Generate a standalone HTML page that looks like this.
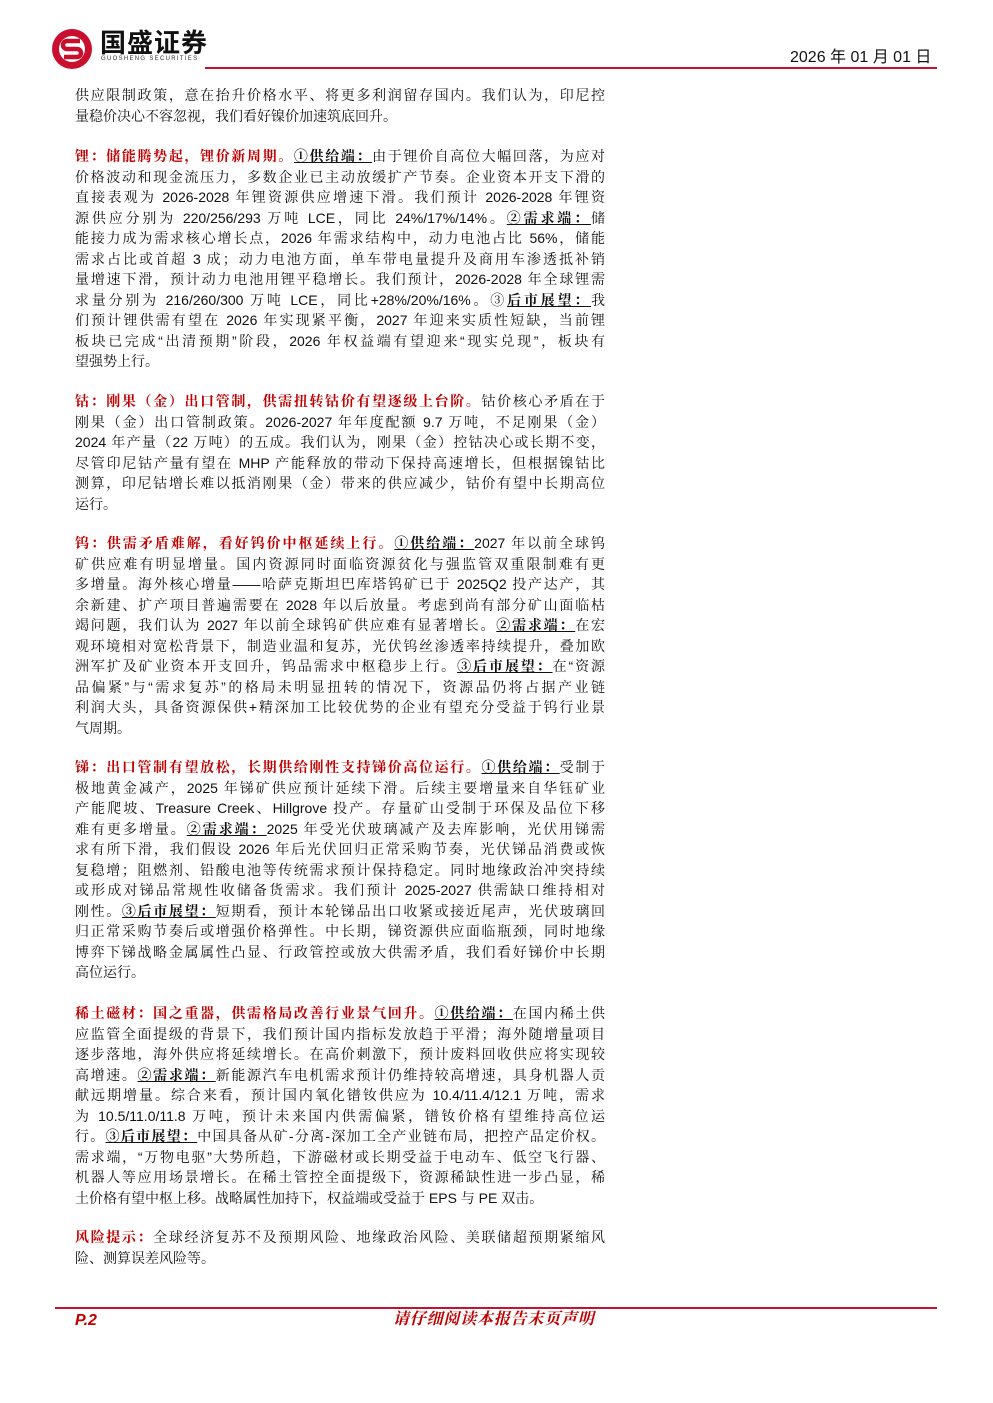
<!DOCTYPE html>
<html><head><meta charset="utf-8">
<style>
*{margin:0;padding:0;box-sizing:border-box}
body{width:993px;height:1403px;background:#fff;position:relative;overflow:hidden;font-family:"Liberation Sans","Noto Serif CJK SC",serif;color:#111}
.p{position:absolute;left:75px;width:530px;font-size:14px;line-height:20.5px}
.l{text-align:justify;text-align-last:justify;white-space:nowrap;height:20.5px}
.e{text-align:left;white-space:nowrap;height:20.5px}
.r{color:#c00000;font-weight:bold}
.u{font-weight:bold;text-decoration:underline}
.hr{position:absolute;height:2px;background:#c8102e}
</style></head><body>
<svg style="position:absolute;left:50px;top:27px" width="44" height="44" viewBox="0 0 44 44">
<circle cx="22" cy="22" r="20" fill="#c8102e"/>
<circle cx="22" cy="22" r="13" fill="#fff"/>
<path d="M30 14 H17 a4 4 0 0 0 0 8 h10 a4 4 0 0 1 0 8 H14" stroke="#c8102e" stroke-width="4.5" fill="none"/>
</svg>
<div style="position:absolute;left:100px;top:27px;font-size:26px;font-weight:bold;font-family:'Noto Sans CJK SC',sans-serif;letter-spacing:1px;line-height:30px">国盛证券</div>
<div style="position:absolute;left:101px;top:56px;font-size:6px;letter-spacing:1.3px;color:#333">GUOSHENG SECURITIES</div>
<div class="hr" style="left:205px;top:67px;width:732px"></div>
<div style="position:absolute;left:790px;top:48px;font-size:16px;line-height:20px;font-family:'Liberation Sans','Noto Sans CJK SC',sans-serif">2026 年 01 月 01 日</div>

<div class="p" style="top:85px">
<div class="l">供应限制政策，意在抬升价格水平、将更多利润留存国内。我们认为，印尼控</div>
<div class="e">量稳价决心不容忽视，我们看好镍价加速筑底回升。</div>
</div>

<div class="p" style="top:146px">
<div class="l"><span class="r">锂：储能腾势起，锂价新周期。</span><span class="u">①供给端：</span>由于锂价自高位大幅回落，为应对</div>
<div class="l">价格波动和现金流压力，多数企业已主动放缓扩产节奏。企业资本开支下滑的</div>
<div class="l">直接表观为 2026-2028 年锂资源供应增速下滑。我们预计 2026-2028 年锂资</div>
<div class="l">源供应分别为 220/256/293 万吨 LCE，同比 24%/17%/14%。<span class="u">②需求端：</span>储</div>
<div class="l">能接力成为需求核心增长点，2026 年需求结构中，动力电池占比 56%，储能</div>
<div class="l">需求占比或首超 3 成；动力电池方面，单车带电量提升及商用车渗透抵补销</div>
<div class="l">量增速下滑，预计动力电池用锂平稳增长。我们预计，2026-2028 年全球锂需</div>
<div class="l">求量分别为 216/260/300 万吨 LCE，同比+28%/20%/16%。③<span class="u">后市展望：</span>我</div>
<div class="l">们预计锂供需有望在 2026 年实现紧平衡，2027 年迎来实质性短缺，当前锂</div>
<div class="l">板块已完成“出清预期”阶段，2026 年权益端有望迎来“现实兑现”，板块有</div>
<div class="e">望强势上行。</div>
</div>

<div class="p" style="top:391px">
<div class="l"><span class="r">钴：刚果（金）出口管制，供需扭转钴价有望逐级上台阶。</span>钴价核心矛盾在于</div>
<div class="l">刚果（金）出口管制政策。2026-2027 年年度配额 9.7 万吨，不足刚果（金）</div>
<div class="l">2024 年产量（22 万吨）的五成。我们认为，刚果（金）控钴决心或长期不变，</div>
<div class="l">尽管印尼钴产量有望在 MHP 产能释放的带动下保持高速增长，但根据镍钴比</div>
<div class="l">测算，印尼钴增长难以抵消刚果（金）带来的供应减少，钴价有望中长期高位</div>
<div class="e">运行。</div>
</div>

<div class="p" style="top:533px">
<div class="l"><span class="r">钨：供需矛盾难解，看好钨价中枢延续上行。</span><span class="u">①供给端：</span>2027 年以前全球钨</div>
<div class="l">矿供应难有明显增量。国内资源同时面临资源贫化与强监管双重限制难有更</div>
<div class="l">多增量。海外核心增量——哈萨克斯坦巴库塔钨矿已于 2025Q2 投产达产，其</div>
<div class="l">余新建、扩产项目普遍需要在 2028 年以后放量。考虑到尚有部分矿山面临枯</div>
<div class="l">竭问题，我们认为 2027 年以前全球钨矿供应难有显著增长。<span class="u">②需求端：</span>在宏</div>
<div class="l">观环境相对宽松背景下，制造业温和复苏，光伏钨丝渗透率持续提升，叠加欧</div>
<div class="l">洲军扩及矿业资本开支回升，钨品需求中枢稳步上行。<span class="u">③后市展望：</span>在“资源</div>
<div class="l">品偏紧”与“需求复苏”的格局未明显扭转的情况下，资源品仍将占据产业链</div>
<div class="l">利润大头，具备资源保供+精深加工比较优势的企业有望充分受益于钨行业景</div>
<div class="e">气周期。</div>
</div>

<div class="p" style="top:757px">
<div class="l"><span class="r">锑：出口管制有望放松，长期供给刚性支持锑价高位运行。</span><span class="u">①供给端：</span>受制于</div>
<div class="l">极地黄金减产，2025 年锑矿供应预计延续下滑。后续主要增量来自华钰矿业</div>
<div class="l">产能爬坡、Treasure Creek、Hillgrove 投产。存量矿山受制于环保及品位下移</div>
<div class="l">难有更多增量。<span class="u">②需求端：</span>2025 年受光伏玻璃减产及去库影响，光伏用锑需</div>
<div class="l">求有所下滑，我们假设 2026 年后光伏回归正常采购节奏，光伏锑品消费或恢</div>
<div class="l">复稳增；阻燃剂、铅酸电池等传统需求预计保持稳定。同时地缘政治冲突持续</div>
<div class="l">或形成对锑品常规性收储备货需求。我们预计 2025-2027 供需缺口维持相对</div>
<div class="l">刚性。<span class="u">③后市展望：</span>短期看，预计本轮锑品出口收紧或接近尾声，光伏玻璃回</div>
<div class="l">归正常采购节奏后或增强价格弹性。中长期，锑资源供应面临瓶颈，同时地缘</div>
<div class="l">博弈下锑战略金属属性凸显、行政管控或放大供需矛盾，我们看好锑价中长期</div>
<div class="e">高位运行。</div>
</div>

<div class="p" style="top:1003px">
<div class="l"><span class="r">稀土磁材：国之重器，供需格局改善行业景气回升。</span><span class="u">①供给端：</span>在国内稀土供</div>
<div class="l">应监管全面提级的背景下，我们预计国内指标发放趋于平滑；海外随增量项目</div>
<div class="l">逐步落地，海外供应将延续增长。在高价刺激下，预计废料回收供应将实现较</div>
<div class="l">高增速。<span class="u">②需求端：</span>新能源汽车电机需求预计仍维持较高增速，具身机器人贡</div>
<div class="l">献远期增量。综合来看，预计国内氧化镨钕供应为 10.4/11.4/12.1 万吨，需求</div>
<div class="l">为 10.5/11.0/11.8 万吨，预计未来国内供需偏紧，镨钕价格有望维持高位运</div>
<div class="l">行。<span class="u">③后市展望：</span>中国具备从矿-分离-深加工全产业链布局，把控产品定价权。</div>
<div class="l">需求端，“万物电驱”大势所趋，下游磁材或长期受益于电动车、低空飞行器、</div>
<div class="l">机器人等应用场景增长。在稀土管控全面提级下，资源稀缺性进一步凸显，稀</div>
<div class="e">土价格有望中枢上移。战略属性加持下，权益端或受益于 EPS 与 PE 双击。</div>
</div>

<div class="p" style="top:1227px">
<div class="l"><span class="r">风险提示：</span>全球经济复苏不及预期风险、地缘政治风险、美联储超预期紧缩风</div>
<div class="e">险、测算误差风险等。</div>
</div>

<div class="hr" style="left:55px;top:1307px;width:882px"></div>
<div style="position:absolute;left:75px;top:1311px;font-size:16px;font-weight:bold;font-style:italic;color:#c00000;line-height:20px">P.2</div>
<div style="position:absolute;left:393px;top:1310px;font-size:16px;font-weight:bold;font-style:italic;color:#c00000;line-height:20px;letter-spacing:0.8px">请仔细阅读本报告末页声明</div>
</body></html>
